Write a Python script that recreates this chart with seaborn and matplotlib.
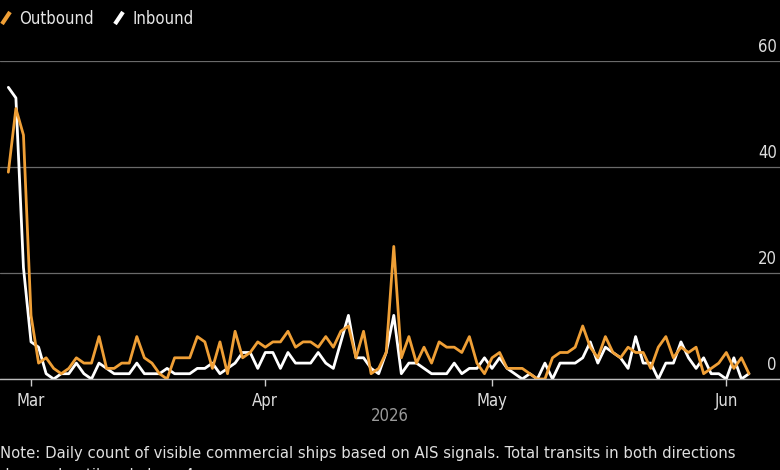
import matplotlib
matplotlib.use("Agg")
import matplotlib.pyplot as plt
import matplotlib.dates as mdates
from matplotlib.lines import Line2D
from matplotlib.markers import MarkerStyle
from matplotlib.transforms import Affine2D, blended_transform_factory
import pandas as pd
import seaborn as sns

# daily counts, Feb 26 - Jun 4 2026
dates = pd.date_range("2026-02-26", "2026-06-04", freq="D")

outbound = [39, 51, 46, 12, 3, 4, 2, 1, 2, 4, 3, 3, 8, 2, 2, 3, 3, 8, 4, 3,
            1, 0, 4, 4, 4, 8, 7, 2, 7, 1, 9, 4, 5, 7, 6, 7, 7, 9, 6, 7,
            7, 6, 8, 6, 9, 10, 4, 9, 1, 2, 5, 25, 4, 8, 3, 6, 3, 7, 6, 6,
            5, 8, 3, 1, 4, 5, 2, 2, 2, 1, 0, 0, 4, 5, 5, 6, 10, 6, 4, 8,
            5, 4, 6, 5, 5, 2, 6, 8, 4, 6, 5, 6, 1, 2, 3, 5, 2, 4, 1]

inbound = [55, 53, 21, 7, 6, 1, 0, 1, 1, 3, 1, 0, 3, 2, 1, 1, 1, 3, 1, 1,
           1, 2, 1, 1, 1, 2, 2, 3, 1, 2, 3, 5, 5, 2, 5, 5, 2, 5, 3, 3,
           3, 5, 3, 2, 7, 12, 4, 4, 2, 1, 5, 12, 1, 3, 3, 2, 1, 1, 1, 3,
           1, 2, 2, 4, 2, 4, 2, 1, 0, 1, 0, 3, 0, 3, 3, 3, 4, 7, 3, 6,
           5, 4, 2, 8, 3, 3, 0, 3, 3, 7, 4, 2, 4, 1, 1, 0, 4, 0, 1]

series_names = ["Outbound", "Inbound"]
colors = {"Outbound": "#ef9f36", "Inbound": "#ffffff"}
y_ticks = [0, 20, 40, 60]

df = pd.concat([
    pd.DataFrame({"date": dates, "ships": outbound, "direction": "Outbound"}),
    pd.DataFrame({"date": dates, "ships": inbound, "direction": "Inbound"}),
])

sns.set_style("dark", {"axes.facecolor": "black", "figure.facecolor": "black"})
plt.rcParams["font.family"] = ["DejaVu Sans"]
plt.rcParams["font.stretch"] = "condensed"

fig = plt.figure(figsize=(7.8, 4.7), dpi=100)
ax = fig.add_axes([0, 0.1936, 1.0, 0.677])
ax.set_facecolor("black")

sns.lineplot(data=df, x="date", y="ships", hue="direction",
             hue_order=["Inbound", "Outbound"], palette=colors,
             linewidth=2.0, legend=False, ax=ax)

ax.set_xlim(pd.Timestamp("2026-02-24 21:30"), pd.Timestamp("2026-06-08 02:30"))
ax.set_ylim(0, 60)

# grid + right-side labels sitting above the lines
ax.set_yticks(y_ticks)
ax.yaxis.grid(True, color="#6a6a6a", linewidth=0.9)
ax.xaxis.grid(False)
ax.tick_params(axis="y", left=False, right=False, labelleft=False)
trans = blended_transform_factory(ax.transAxes, ax.transData)
for v in y_ticks:
    ax.annotate(str(v), xy=(1.0, v), xycoords=trans, xytext=(-3, 5),
                textcoords="offset pixels", ha="right", va="bottom",
                color="#dddddd", fontsize=12)

for s in ["top", "right", "left"]:
    ax.spines[s].set_visible(False)
ax.spines["bottom"].set_color("#bbbbbb")
ax.spines["bottom"].set_linewidth(1)

ax.xaxis.set_major_locator(mdates.MonthLocator())
ax.xaxis.set_major_formatter(mdates.DateFormatter("%b"))
ax.tick_params(axis="x", bottom=True, length=5, width=1, color="#cccccc",
               labelcolor="#dddddd", labelsize=12, pad=4)
ax.set_xlabel("2026", color="#9a9a9a", fontsize=12, labelpad=-2)
ax.set_ylabel("")

# legend with slanted stroke icons
slash = MarkerStyle("|", transform=Affine2D().rotate_deg(-35))
handles = [Line2D([], [], color=colors[n], linestyle="none", marker=slash,
                  markersize=11, markeredgewidth=3) for n in series_names]
fig.legend(handles, series_names, loc="upper left", bbox_to_anchor=(-0.02, 1.01),
           ncol=2, frameon=False, fontsize=12, labelcolor="#e6e6e6",
           handlelength=0.8, handletextpad=0.4, columnspacing=1.1)

# note runs off the bottom edge, as in the source
fig.text(0.0, 0.052, "Note: Daily count of visible commercial ships based on AIS signals. "
         "Total transits in both directions\ndropped until early June 4.",
         color="#e0e0e0", fontsize=11.85, ha="left", va="top", linespacing=1.6)

fig.savefig("out.png", dpi=100, facecolor="black")
